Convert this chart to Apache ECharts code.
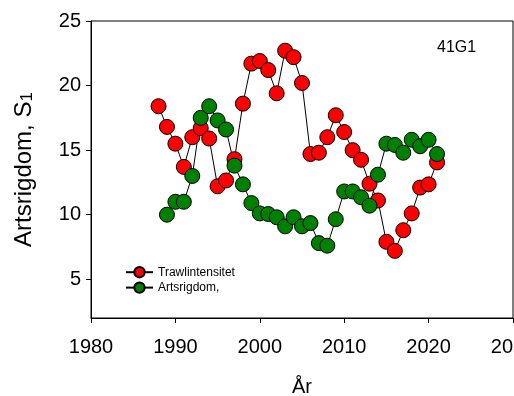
<!DOCTYPE html>
<html>
<head>
<meta charset="utf-8">
<script src="https://cdn.jsdelivr.net/npm/echarts@6/dist/echarts.min.js"></script>
<style>
  html, body { margin: 0; padding: 0; overflow: hidden; background: #fff; }
  #chart { width: 540px; height: 396px; }
</style>
</head>
<body>
<div id="chart"></div>
<script>
// Survey years
const years = [1988, 1989, 1990, 1991, 1992, 1993, 1994, 1995, 1996, 1997,
               1998, 1999, 2000, 2001, 2002, 2003, 2004, 2005, 2006, 2007,
               2008, 2009, 2010, 2011, 2012, 2013, 2014, 2015, 2016, 2017,
               2018, 2019, 2020, 2021];

// Trawling intensity, one value per year from 1988
const trawlintensitet = [18.4, 16.8, 15.5, 13.7, 16.0, 16.7, 15.9, 12.2, 12.65, 14.3,
                         18.6, 21.7, 21.9, 21.2, 19.4, 22.7, 22.2, 20.2, 14.7, 14.8,
                         16.0, 17.7, 16.4, 15.0, 14.25, 12.4, 11.1, 7.9, 7.2, 8.8,
                         10.1, 12.1, 12.35, 14.05];

// Species richness S1, starts in 1989
const artsYears = years.slice(1);
const artsrigdom = [10.0, 11.0, 11.0, 13.0, 17.5, 18.4, 17.3, 16.6, 13.8,
                    12.35, 10.9, 10.1, 10.05, 9.8, 9.1, 9.8, 9.1, 9.35, 7.8,
                    7.6, 9.65, 11.8, 11.8, 11.35, 10.7, 13.1, 15.5, 15.4, 14.8,
                    15.8, 15.3, 15.8, 14.7];

const yTicks = [5, 10, 15, 20, 25];

const font = 'Arial, "Liberation Sans", sans-serif';

const pairs = (xs, ys) => xs.map((x, i) => [x, ys[i]]);

const chart = echarts.init(document.getElementById('chart'), null, { renderer: 'canvas' });

chart.setOption({
  animation: false,
  backgroundColor: '#fff',
  textStyle: { fontFamily: font, color: '#000' },
  title: {
    text: '41G1',
    left: 437,
    top: 40,
    padding: 0,
    textStyle: { fontFamily: font, fontSize: 16, fontWeight: 'normal', color: '#000' }
  },
  grid: {
    left: 91,
    top: 21,
    right: 27,
    bottom: 78,
    show: true,
    borderColor: '#000',
    borderWidth: 1,
    containLabel: false,
    outerBoundsMode: 'none'
  },
  legend: {
    orient: 'vertical',
    left: 125,
    top: 266,
    padding: 0,
    itemWidth: 27,
    itemHeight: 13,
    itemGap: 3,
    textStyle: { fontFamily: font, fontSize: 12, color: '#000' },
    data: ['Trawlintensitet', 'Artsrigdom,']
  },
  xAxis: {
    type: 'value',
    min: 1980,
    max: 2030,
    interval: 10,
    name: 'År',
    nameLocation: 'middle',
    nameGap: 59,
    nameTextStyle: { fontFamily: font, fontSize: 20, color: '#000' },
    axisLine: { show: true, onZero: false, lineStyle: { color: '#000', width: 1 } },
    axisTick: { show: true, inside: false, length: 5, lineStyle: { color: '#000' } },
    axisLabel: { fontFamily: font, fontSize: 20, color: '#000', margin: 19, formatter: v => String(v) },
    splitLine: { show: false }
  },
  yAxis: {
    type: 'value',
    min: 2,
    max: 25,
    name: 'Artsrigdom, S{sub|1}',
    nameLocation: 'middle',
    nameGap: 55,
    nameRotate: 90,
    nameTextStyle: {
      fontFamily: font, fontSize: 24, color: '#000',
      rich: {
        sub: { fontFamily: font, fontSize: 17, color: '#000', verticalAlign: 'bottom' }
      }
    },
    axisLine: { show: true, onZero: false, lineStyle: { color: '#000', width: 1 } },
    axisTick: { show: true, inside: false, length: 5, customValues: yTicks, lineStyle: { color: '#000' } },
    axisLabel: { fontFamily: font, fontSize: 20, color: '#000', margin: 10, customValues: yTicks },
    splitLine: { show: false }
  },
  series: [
    {
      name: 'Trawlintensitet',
      type: 'line',
      data: pairs(years, trawlintensitet),
      symbol: 'circle',
      symbolSize: 15,
      lineStyle: { color: '#000', width: 1 },
      itemStyle: { color: '#ff0000', borderColor: '#000', borderWidth: 1 },
      emphasis: { disabled: true }
    },
    {
      name: 'Artsrigdom,',
      type: 'line',
      data: pairs(artsYears, artsrigdom),
      symbol: 'circle',
      symbolSize: 15,
      lineStyle: { color: '#000', width: 1 },
      itemStyle: { color: '#008000', borderColor: '#000', borderWidth: 1 },
      emphasis: { disabled: true }
    }
  ]
});
</script>
</body>
</html>
